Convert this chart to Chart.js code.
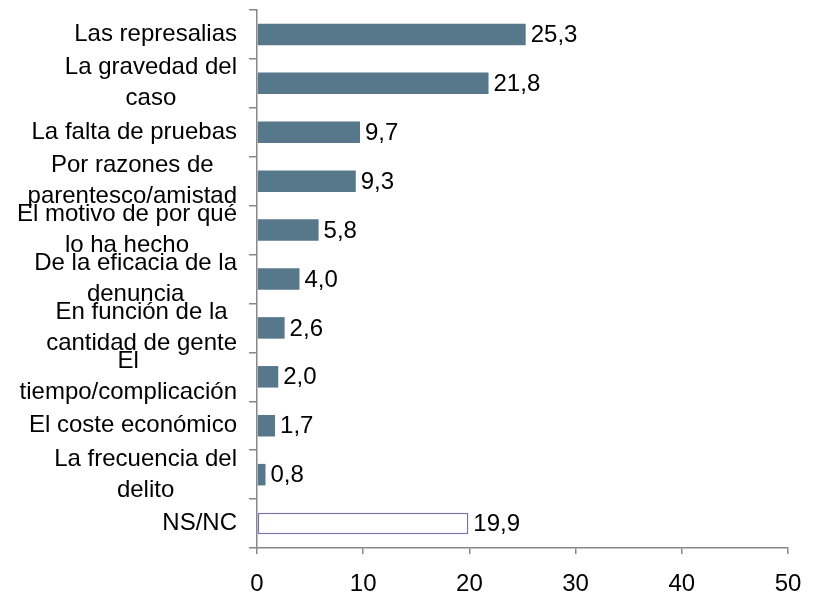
<!DOCTYPE html>
<html>
<head>
<meta charset="utf-8">
<script src="https://cdn.jsdelivr.net/npm/chart.js@4/dist/chart.umd.min.js"></script>
<style>
  html, body { margin: 0; padding: 0; background: #fff; }
  #wrap { width: 818px; height: 593px; }
</style>
</head>
<body>
<div id="wrap"><canvas id="myChart" width="818" height="593"></canvas></div>
<script>
// motivos y porcentajes
var labels = [
    'Las represalias',
    ['La gravedad del', 'caso'],
    'La falta de pruebas',
    ['Por razones de', 'parentesco/amistad'],
    ['El motivo de por qué', 'lo ha hecho'],
    ['De la eficacia de la', 'denuncia'],
    ['En función de la', 'cantidad de gente'],
    ['El', 'tiempo/complicación'],
    'El coste económico',
    ['La frecuencia del', 'delito'],
    'NS/NC'
];
var values = [25.3, 21.8, 9.7, 9.3, 5.8, 4.0, 2.6, 2.0, 1.7, 0.8, 19.9];
var xTicks = [0, 10, 20, 30, 40, 50];

var barColor = '#57788b';
var fills = values.map((v, i) => (labels[i] == 'NS/NC' ? '#ffffff' : barColor));
var borders = values.map((v, i) => (labels[i] == 'NS/NC' ? '#7474b4' : barColor));
var borderWidths = values.map((v, i) => (labels[i] == 'NS/NC' ? 1.5 : 0));

const fontFamily = '"Liberation Sans", Arial, sans-serif';
const fontSize = 24;
const lineHeight = 31;

// pinta el valor al final de cada barra
const valueLabels = {
    id: 'valueLabels',
    afterDatasetsDraw(chart) {
        const ctx = chart.ctx;
        const meta = chart.getDatasetMeta(0);
        ctx.save();
        ctx.font = fontSize + 'px ' + fontFamily;
        ctx.fillStyle = '#000';
        ctx.textAlign = 'left';
        ctx.textBaseline = 'middle';
        meta.data.forEach((bar, i) => {
            ctx.fillText(values[i].toFixed(1).replace('.', ','), bar.x + 5, bar.y + 1);
        });
        ctx.restore();
    }
};

// etiquetas del eje y: bloque alineado a la derecha, líneas centradas entre sí
const categoryLabels = {
    id: 'categoryLabels',
    afterDraw(chart) {
        const ctx = chart.ctx;
        const yScale = chart.scales.y;
        const right = yScale.right - 20;
        ctx.save();
        ctx.font = fontSize + 'px ' + fontFamily;
        ctx.fillStyle = '#000';
        ctx.textAlign = 'center';
        ctx.textBaseline = 'middle';
        labels.forEach((label, i) => {
            const lines = Array.isArray(label) ? label : [label];
            const width = Math.max(...lines.map(l => ctx.measureText(l).width));
            const cx = right - width / 2;
            const cy = yScale.getPixelForTick(i);
            lines.forEach((line, j) => {
                ctx.fillText(line, cx, cy + (j - (lines.length - 1) / 2) * lineHeight);
            });
        });
        ctx.restore();
    }
};

var ctx = document.getElementById('myChart').getContext('2d');
Chart.defaults.font.family = fontFamily;
Chart.defaults.font.size = fontSize;
Chart.defaults.color = '#000';

new Chart(ctx, {
    type: 'bar',
    data: {
        labels: labels,
        datasets: [{
            data: values,
            backgroundColor: fills,
            borderColor: borders,
            borderWidth: borderWidths,
            borderSkipped: false,
            barPercentage: 0.44,
            categoryPercentage: 1
        }]
    },
    options: {
        indexAxis: 'y',
        responsive: false,
        animation: false,
        layout: { padding: { top: 10, right: 30, bottom: 0, left: 0 } },
        plugins: {
            legend: { display: false },
            tooltip: { enabled: false }
        },
        scales: {
            x: {
                min: 0,
                max: 50,
                afterBuildTicks: (scale) => { scale.ticks = xTicks.map(v => ({ value: v })); },
                afterFit: (scale) => {
                    scale.height = 45;
                    scale.paddingLeft = 0;
                    scale.paddingRight = 0;
                },
                border: { display: true, color: '#888', width: 1.5 },
                grid: { display: true, drawOnChartArea: false, drawTicks: true, tickLength: 6, color: '#888', lineWidth: 1.5 },
                ticks: { padding: 16, maxRotation: 0 }
            },
            y: {
                afterFit: (scale) => {
                    scale.width = 257;
                    scale.paddingTop = 0;
                    scale.paddingBottom = 0;
                },
                border: { display: true, color: '#888', width: 1.5 },
                grid: { display: true, offset: true, drawOnChartArea: false, drawTicks: true, tickLength: 8, color: '#888', lineWidth: 1.5 },
                ticks: { display: false, autoSkip: false }
            }
        }
    },
    plugins: [valueLabels, categoryLabels]
});
</script>
</body>
</html>
